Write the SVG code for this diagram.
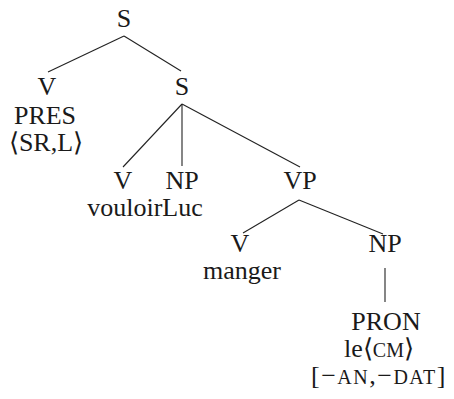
<svg xmlns="http://www.w3.org/2000/svg" width="454" height="399" viewBox="0 0 454 399">
<style>
text{font-family:"Liberation Serif","Times New Roman",serif;font-size:26px;fill:#1a1a1a;text-anchor:middle}
.sc{font-size:20px}
.edges line{stroke:#222;stroke-width:1.1}
</style>
<rect width="454" height="399" fill="#fff"/>
<g class="edges">
<line x1="124" y1="36" x2="48" y2="72"/>
<line x1="124" y1="36" x2="181" y2="71"/>
<line x1="182" y1="104" x2="123" y2="167"/>
<line x1="182" y1="104" x2="182" y2="166"/>
<line x1="182" y1="104" x2="300" y2="167"/>
<line x1="299" y1="200" x2="243" y2="233"/>
<line x1="299" y1="200" x2="383" y2="234"/>
<line x1="385" y1="268" x2="385" y2="302"/>
</g>
<g id="s-root"><text x="124" y="27">S</text></g>
<g id="v-pres"><text x="47" y="95">V</text><text x="45" y="124">PRES</text><text x="46" y="151">⟨SR,L⟩</text></g>
<g id="s-inner"><text x="182" y="95">S</text></g>
<g id="v-vouloir"><text x="123" y="189">V</text></g>
<g id="np-luc"><text x="182" y="189">NP</text></g>
<text x="145" y="216">vouloirLuc</text>
<g id="vp"><text x="300" y="189">VP</text></g>
<g id="v-manger"><text x="240" y="252">V</text><text x="242" y="279">manger</text></g>
<g id="np-le"><text x="385" y="252">NP</text></g>
<g id="pron"><text x="386" y="330">PRON</text><text x="379" y="357">le⟨<tspan class="sc">CM</tspan>⟩</text><text x="379" y="384" letter-spacing="1.5">[−<tspan class="sc">AN</tspan>,−<tspan class="sc">DAT</tspan>]</text></g>
</svg>
